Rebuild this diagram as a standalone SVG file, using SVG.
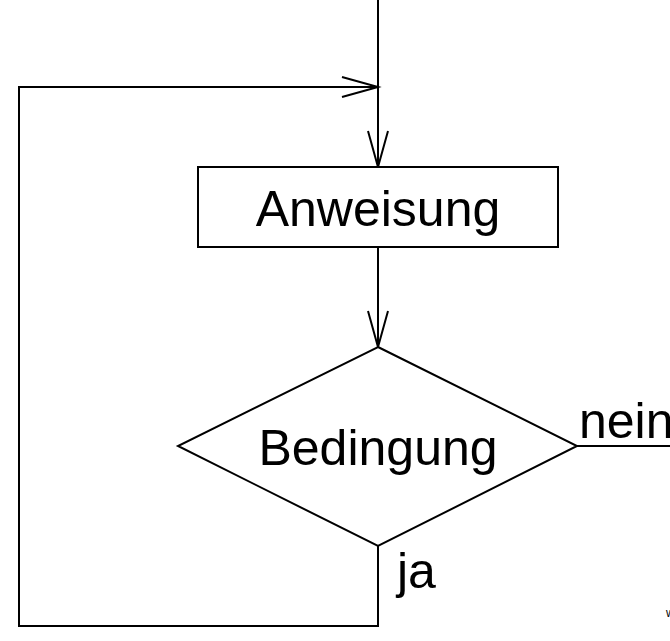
<svg xmlns="http://www.w3.org/2000/svg" width="670" height="641" viewBox="0 0 670 641">
<style>
.ln{fill:none;stroke:#000;stroke-width:2}
.sh{fill:#fff;stroke:#000;stroke-width:2}
.t{font-family:"Liberation Sans",Arial,sans-serif;font-size:50px;fill:#000}
</style>
<defs>
<marker id="ah" viewBox="0 0 36 20" refX="36" refY="10" markerWidth="36" markerHeight="20" markerUnits="userSpaceOnUse" orient="auto" overflow="visible">
<path d="M0,0 L36,10 L0,20" fill="none" stroke="#000" stroke-width="2"/>
</marker>
</defs>
<rect width="670" height="641" fill="#fff"/>
<g id="connectors">
<line class="ln" x1="378" y1="0" x2="378" y2="167" marker-end="url(#ah)"/>
<polyline class="ln" points="378,546 378,626 19,626 19,87 378,87" marker-end="url(#ah)"/>
<line class="ln" x1="378" y1="247" x2="378" y2="347" marker-end="url(#ah)"/>
<line class="ln" x1="577" y1="446" x2="670" y2="446"/>
</g>
<g id="anweisung">
<rect class="sh" x="198" y="167" width="360" height="80"/>
<text class="t" x="378" y="226" text-anchor="middle">Anweisung</text>
</g>
<g id="bedingung">
<polygon class="sh" points="378,347 577,446 378,546 178,446"/>
<text class="t" x="378" y="465" text-anchor="middle">Bedingung</text>
</g>
<g id="labels">
<text class="t" x="579" y="438">nein</text>
<text class="t" x="397" y="588">ja</text>
<text x="666" y="617" style="font-family:'Liberation Sans',Arial,sans-serif;font-size:12px">w</text>
</g>
</svg>
